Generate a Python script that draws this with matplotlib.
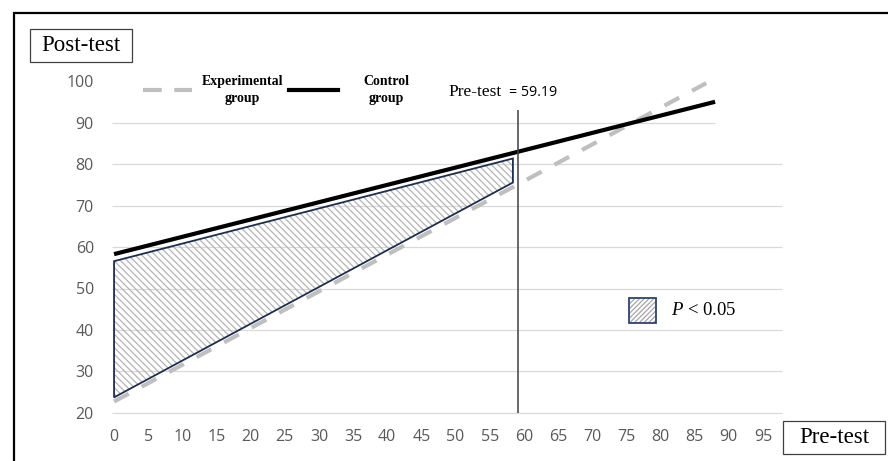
import matplotlib
matplotlib.use("Agg")
import matplotlib.pyplot as plt
from matplotlib.patches import Rectangle, Polygon
from matplotlib.lines import Line2D

# --- 数据 ---
pre_ticks = [0, 5, 10, 15, 20, 25, 30, 35, 40, 45, 50, 55, 60, 65, 70, 75, 80, 85, 90, 95]
post_ticks = [20, 30, 40, 50, 60, 70, 80, 90, 100]
grid_levels = [20, 30, 40, 50, 60, 70, 80, 90]

control_x = [0, 88.0]
control_y = [58.3, 95.1]
exp_x = [0, 86.7]
exp_y = [22.7, 99.6]

sig_x = [0, 58.4, 58.4, 0]
sig_y = [56.6, 81.4, 75.6, 23.7]

pretest_mean = 59.19
vline_top = 93.0

x_min, x_max = -0.3, 97.8

plt.rcParams['mathtext.fontset'] = 'custom'
plt.rcParams['mathtext.it'] = 'Liberation Serif:italic'
plt.rcParams['mathtext.rm'] = 'Liberation Serif'
plt.rcParams['hatch.linewidth'] = 0.9

W, H = 888, 461
fig = plt.figure(figsize=(W / 100, H / 100), dpi=100)
ax = fig.add_axes([112 / W, 1 - 412.7 / H, (782 - 112) / W, (412.7 - 81.5) / H])
ax.set_xlim(x_min, x_max)
ax.set_ylim(20, 100)
for s in ax.spines.values():
    s.set_visible(False)

tick_color = '#595959'
ax.set_xticks(pre_ticks)
ax.set_yticks(post_ticks)
ax.tick_params(length=0, labelcolor=tick_color, labelsize=11.5)
ax.tick_params(axis='x', pad=12)
ax.tick_params(axis='y', pad=13)
for lab in ax.get_xticklabels() + ax.get_yticklabels():
    lab.set_fontfamily('Open Sans')

# 网格线 (90 那条只画到对照组线末端)
grid_right = [x_max if lv < 90 else control_x[-1] for lv in grid_levels]
ax.hlines(grid_levels, x_min, grid_right, color='#D9D9D9', lw=0.9, zorder=0, clip_on=False)

# 实验组 (灰色虚线)
ax.plot(exp_x, exp_y, color='#BFBFBF', lw=3, dashes=(4, 3.5), solid_capstyle='butt',
        zorder=2, clip_on=False)

# 显著区域
ax.add_patch(Polygon(list(zip(sig_x, sig_y)), closed=True, facecolor='none',
                     edgecolor='#B4B4B4', lw=0, hatch='\\\\\\\\\\', zorder=3))
ax.add_patch(Polygon(list(zip(sig_x, sig_y)), closed=True, facecolor='none',
                     edgecolor='#1F2D4E', lw=1.3, zorder=3))

# 对照组 (黑色实线)
ax.plot(control_x, control_y, color='black', lw=3, solid_capstyle='butt', zorder=4, clip_on=False)

# 前测均值竖线
ax.vlines(pretest_mean, 20, vline_top, color='#404040', lw=1.1, zorder=5)
ax.text(pretest_mean - 10.2, 97.4, 'Pre-test', family='Liberation Serif', fontsize=12.5,
        va='center', ha='left')
ax.text(pretest_mean - 1.3, 97.4, '= 59.19', family='Open Sans', fontsize=10.3,
        va='center', ha='left')

# 顶部图例 (两个条目分开放, 文字间距不同)
legend_items = [
    (Line2D([], [], color='#BFBFBF', lw=3, dashes=(4.5, 3)), 'Experimental\ngroup', 143, 0.65),
    (Line2D([], [], color='black', lw=3), 'Control\ngroup', 289, 1.8),
]
for handle, label, left_px, textpad in legend_items:
    leg = fig.legend([handle], [label], frameon=False,
                     loc='center left', bbox_to_anchor=(left_px / W, 1 - 90 / H),
                     bbox_transform=fig.transFigure, borderpad=0, borderaxespad=0,
                     handlelength=3.55, handletextpad=textpad,
                     prop={'family': 'Liberation Serif', 'weight': 'bold', 'size': 10})
    for t in leg.get_texts():
        t.set_multialignment('center')
        t.set_linespacing(1.35)

# P < 0.05 图例
fig.patches.append(Rectangle((629 / W, 1 - 323 / H), 27 / W, 25 / H, transform=fig.transFigure,
                             facecolor='white', edgecolor='#A6A6A6', lw=0, hatch='///////'))
fig.patches.append(Rectangle((629 / W, 1 - 323 / H), 27 / W, 25 / H, transform=fig.transFigure,
                             facecolor='none', edgecolor='#2E4470', lw=1.3))
fig.text(671 / W, 1 - 310 / H, r'$\mathit{P}$ < 0.05', family='Liberation Serif',
         fontsize=13.5, va='center', ha='left')

# 轴标题方框
fig.patches.append(Rectangle((30 / W, 1 - 62 / H), 102 / W, 33 / H, transform=fig.transFigure,
                             facecolor='white', edgecolor='#404040', lw=0.9))
fig.text(81 / W, 1 - 45.5 / H, 'Post-test', family='Liberation Serif', fontsize=16.5,
         ha='center', va='center')
fig.patches.append(Rectangle((783 / W, 1 - 454 / H), 102 / W, 33 / H, transform=fig.transFigure,
                             facecolor='white', edgecolor='#404040', lw=0.9))
fig.text(834 / W, 1 - 437.5 / H, 'Pre-test', family='Liberation Serif', fontsize=16.5,
         ha='center', va='center')

# 外框
fig.patches.append(Rectangle((14 / W, -0.2), 1.2, 0.2 + (1 - 13 / H), transform=fig.transFigure,
                             facecolor='none', edgecolor='black', lw=1.6))

fig.savefig('out.png', dpi=100)
